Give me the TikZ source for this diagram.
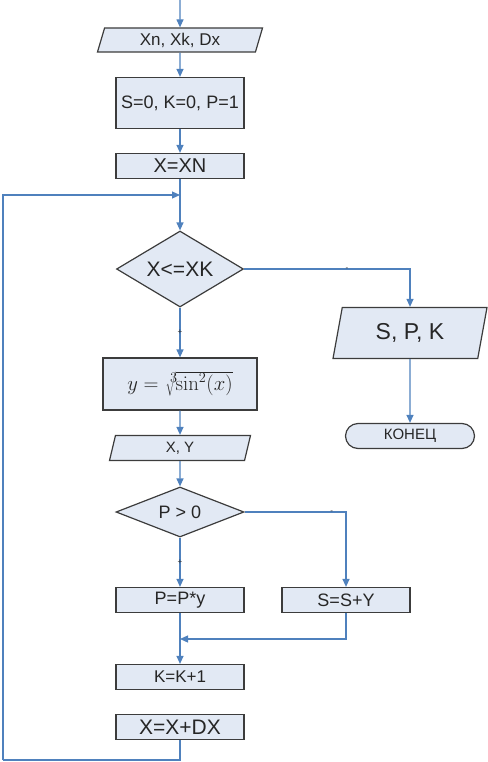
\documentclass[tikz,border=0pt]{standalone}
\usepackage[no-math]{fontspec}
\setmainfont{Liberation Sans}
\usepackage{tikz}
\usetikzlibrary{arrows.meta, shapes.geometric}
\definecolor{boxfill}{RGB}{226,233,244}
\definecolor{flowblue}{RGB}{79,129,189}
\definecolor{boxline}{RGB}{60,60,60}

\begin{document}
\begin{tikzpicture}[
  x=1pt, y=-1pt,
  block/.style={draw=boxline, line width=1.2pt, fill=boxfill, rectangle,
                minimum width=128pt, minimum height=25pt, inner sep=0pt,
                text=black!85, font=\fontsize{18}{20}\selectfont},
  io/.style={block, trapezium, trapezium left angle=64, trapezium right angle=116,
             trapezium stretches body},
  cond/.style={block, diamond, aspect=1.7},
  term/.style={block, rounded corners=12.5pt, minimum width=129pt},
  flow/.style={-{Triangle[length=8pt, width=7pt]}, flowblue, line width=1.2pt},
  line/.style={flowblue, line width=1.2pt},
  sign/.style={font=\fontsize{8}{8}\selectfont, inner sep=0pt, text=black!80}
]
\useasboundingbox (0,0) rectangle (487,762);

%% Main column
\coordinate (start) at (180,0);
\node[io, minimum width=165pt, minimum height=24pt, font=\fontsize{17}{20}\selectfont]
      (input) at (180,40) {Xn, Xk, Dx};
\node[block, minimum height=51pt] (init) at (180,103) {S=0, K=0, P=1};
\node[block, font=\fontsize{20}{22}\selectfont] (xn0) at (180,166) {X=XN};
\coordinate (merge) at (180,195);
\node[cond, minimum width=127pt, minimum height=76pt, font=\fontsize{21}{24}\selectfont]
      (cmp1) at (180,269) {X<=XK};
\node[block, minimum width=154pt, minimum height=52pt, font=\fontsize{20}{24}\selectfont]
      (calc) at (180,384) {$y=\sqrt[\scriptstyle 3]{\sin^2(x)}$};
\node[io, minimum width=141pt, minimum height=25pt, font=\fontsize{15}{18}\selectfont]
      (outxy) at (180,448) {X, Y};
\node[cond, minimum width=128pt, minimum height=50pt] (cmp2) at (180,512) {P > 0};
\node[block] (mulp) at (180,600) {P=P*y};
\coordinate (join) at (180,639);
\node[block, font=\fontsize{17}{20}\selectfont] (kinc) at (180,677) {K=K+1};
\node[block, font=\fontsize{21}{24}\selectfont] (xinc) at (180,727) {X=X+DX};
\coordinate (loopL) at (3,760);

%% Right side
\node[io, minimum width=154pt, minimum height=51pt, font=\fontsize{23}{26}\selectfont]
      (outspk) at (410,333) {S, P, K};
\node[term, font=\fontsize{15}{18}\selectfont] (stop) at (410,436) {КОНЕЦ};
\node[block] (adds) at (346,600) {S=S+Y};

%% Connectors
\draw[flow] (start) -- (input.north);
\draw[flow] (input.south) -- (init.north);
\draw[flow] (init.south) -- (xn0.north);
\draw[flow] (xn0.south) -- (cmp1.north);
\draw[flow] (cmp1.east) -| node[sign, pos=0.31]{-} (outspk.north);
\draw[flow] (outspk.south) -- (stop.north);
\draw[flow] (cmp1.south) -- node[sign]{+} (calc.north);
\draw[flow] (calc.south) -- (outxy.north);
\draw[flow] (outxy.south) -- (cmp2.north);
\draw[flow] (cmp2.east) -| node[sign, pos=0.43]{-} (adds.north);
\draw[flow] (cmp2.south) -- node[sign]{+} (mulp.north);
\draw[flow] (adds.south) |- (join);
\draw[flow] (mulp.south) -- (kinc.north);

%% Loop back
\draw[line] (xinc.south) |- (loopL);
\draw[flow] (loopL) |- (merge);

\end{tikzpicture}
\end{document}
